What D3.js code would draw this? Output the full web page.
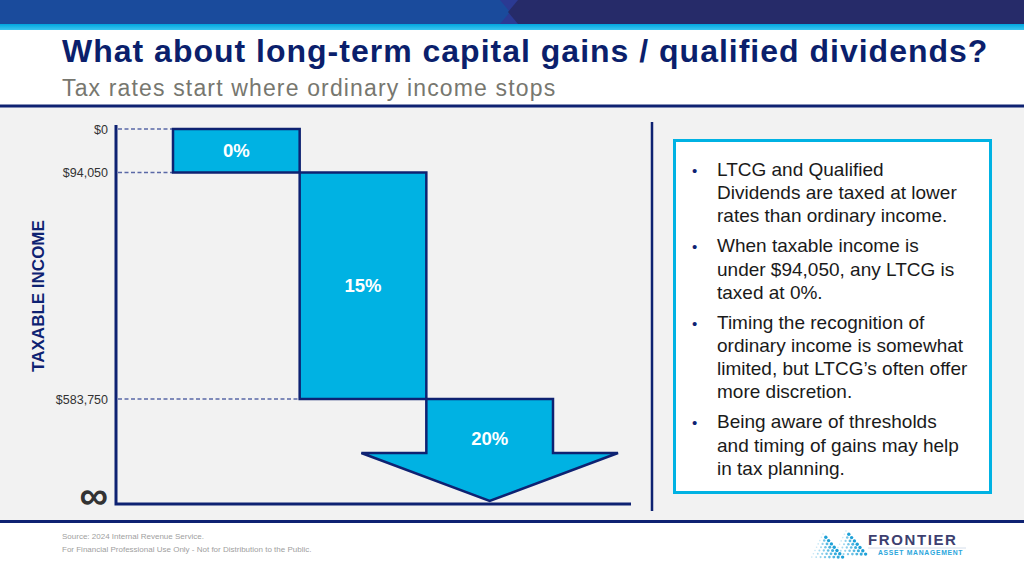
<!DOCTYPE html>
<html><head><meta charset="utf-8">
<script src="https://cdn.jsdelivr.net/npm/d3@7/dist/d3.min.js"></script>
<style>body{margin:0;background:#fff}svg{display:block;font-family:"Liberation Sans",Arial,sans-serif}</style>
</head><body><svg id="c" width="1024" height="572"></svg>
<script>
// ---- data ----
const brackets = ["0%", "15%", "20%"];
const lowerBounds = [0, 94050, 583750];
const upperBounds = [94050, 583750, Infinity];
const tickValues = [0, 94050, 583750];
const tickLabels = ["$0", "$94,050", "$583,750"];
const infinityLabel = "\u221E";
const titleText = "What about long-term capital gains / qualified dividends?";
const subtitleText = "Tax rates start where ordinary income stops";
const axisTitle = "TAXABLE INCOME";
const bullets = [
  ["LTCG and Qualified", "Dividends are taxed at lower", "rates than ordinary income."],
  ["When taxable income is", "under $94,050, any LTCG is", "taxed at 0%."],
  ["Timing the recognition of", "ordinary income is somewhat", "limited, but LTCG\u2019s often offer", "more discretion."],
  ["Being aware of thresholds", "and timing of gains may help", "in tax planning."]
];
const footerLines = ["Source: 2024 Internal Revenue Service.", "For Financial Professional Use Only - Not for Distribution to the Public."];

// ---- styles ----
const NAVY = "#0e2272", CYAN = "#00b2e3", PANEL = "#f2f2f2";
const svg = d3.select("#c");

// header band
svg.append("rect").attr("x",0).attr("y",0).attr("width",1024).attr("height",24).attr("fill","#2b3a93");
svg.append("polygon").attr("points","0,0 500,0 510,12 500,24 0,24").attr("fill","#1a4b9c");
svg.append("polygon").attr("points","518,0 1024,0 1024,24 518,24 508,12").attr("fill","#262b69");
const sg = svg.append("defs").append("linearGradient").attr("id","cy").attr("x1",0).attr("x2",0).attr("y1",0).attr("y2",1);
sg.append("stop").attr("offset",0).attr("stop-color","#00a6df");
sg.append("stop").attr("offset",1).attr("stop-color","#3cc6ef");
svg.append("rect").attr("x",0).attr("y",24).attr("width",1024).attr("height",6).attr("fill","url(#cy)");

// title
svg.append("text").attr("x",62).attr("y",62).attr("fill","#0b1f6c").attr("font-size",32).attr("font-weight","bold")
  .attr("letter-spacing",1.0).text(titleText);
svg.append("text").attr("x",62).attr("y",96).attr("fill","#77776f").attr("font-size",23)
  .attr("letter-spacing",1.15).text(subtitleText);

// panel
svg.append("rect").attr("x",0).attr("y",106).attr("width",1024).attr("height",416).attr("fill",PANEL);
svg.append("rect").attr("x",0).attr("y",104.5).attr("width",1024).attr("height",3).attr("fill",NAVY);
svg.append("rect").attr("x",0).attr("y",520).attr("width",1024).attr("height",3).attr("fill",NAVY);

// scales
const y = d3.scaleLinear().domain([0, 583750]).range([129, 399]);
const x = d3.scaleBand().domain(brackets).range([173, 553]).padding(0);
const axisX = 116, axisTop = 125, axisBottom = 504, axisRight = 631;
const infY = 501; // where the open-ended bracket points

// dashed guide lines
tickValues.forEach((v, i) => {
  const b = brackets[Math.max(i - 1, 0)];
  svg.append("line").attr("x1",axisX+2).attr("x2",x(b)).attr("y1",y(v)).attr("y2",y(v))
    .attr("stroke","#5a68a6").attr("stroke-width",1.3).attr("stroke-dasharray","4,2.5");
});

// bars
const g = svg.append("g");
brackets.forEach((b, i) => {
  const x0 = x(b), x1 = x(b) + x.bandwidth();
  const y0 = y(lowerBounds[i]);
  if (isFinite(upperBounds[i])) {
    const y1 = y(upperBounds[i]);
    g.append("rect").attr("x",x0).attr("y",y0).attr("width",x1-x0).attr("height",y1-y0)
      .attr("fill",CYAN).attr("stroke",NAVY).attr("stroke-width",2.5);
    g.append("text").attr("x",(x0+x1)/2).attr("y",(y0+y1)/2).attr("dy","0.36em")
      .attr("text-anchor","middle").attr("fill","#fff").attr("font-weight","bold").attr("font-size",18.5).text(b);
  } else {
    const headY = 453, spread = 65, cx = (x0 + x1) / 2;
    const pts = [[x0,y0],[x1,y0],[x1,headY],[x1+spread,headY],[cx,infY],[x0-spread,headY],[x0,headY]];
    g.append("polygon").attr("points",pts.map(p=>p.join(",")).join(" "))
      .attr("fill",CYAN).attr("stroke",NAVY).attr("stroke-width",2.5).attr("stroke-linejoin","miter");
    g.append("text").attr("x",cx).attr("y",438).attr("dy","0.36em")
      .attr("text-anchor","middle").attr("fill","#fff").attr("font-weight","bold").attr("font-size",18.5).text(b);
  }
});

// axes
const ax = svg.append("g").attr("transform",`translate(${axisX},0)`)
  .call(d3.axisLeft(y).tickValues(tickValues).tickFormat((d,i)=>tickLabels[i]).tickSize(0).tickPadding(8));
ax.select(".domain").remove();
ax.selectAll("text").attr("font-size",12.5).attr("fill","#333").attr("font-family","Liberation Sans, Arial, sans-serif");
svg.append("path").attr("d",`M${axisX},${axisTop}V${axisBottom}H${axisRight}`)
  .attr("fill","none").attr("stroke",NAVY).attr("stroke-width",3);
svg.append("text").attr("x",108).attr("y",495).attr("dy","0.35em").attr("text-anchor","end")
  .attr("font-size",40).attr("font-weight","bold").attr("fill","#333").text(infinityLabel);
svg.append("text").attr("transform","translate(38,296) rotate(-90)").attr("dy","0.35em")
  .attr("text-anchor","middle").attr("font-size",17).attr("font-weight","bold").attr("fill",NAVY).text(axisTitle);

// divider
svg.append("line").attr("x1",652).attr("x2",652).attr("y1",122).attr("y2",511).attr("stroke",NAVY).attr("stroke-width",2.5);

// text box
svg.append("rect").attr("x",674.5).attr("y",140.5).attr("width",316).attr("height",352)
  .attr("fill","#fff").attr("stroke",CYAN).attr("stroke-width",3);
let by = 176;
const lh = 23.2;
bullets.forEach(lines => {
  svg.append("text").attr("x",692).attr("y",by).attr("fill",NAVY).attr("font-size",15).text("\u2022");
  const t = svg.append("text").attr("x",717).attr("y",by).attr("fill","#1a1a1a").attr("font-size",19);
  lines.forEach((l, k) => t.append("tspan").attr("x",717).attr("y",by + k*lh).text(l));
  by += (lines.length - 1) * lh + 30;
});

// footer
footerLines.forEach((l, i) => svg.append("text").attr("x",62).attr("y",539 + i*13).attr("font-size",8).attr("fill","#a0a0a0").text(l));

// logo
const logo = svg.append("g");
[[823,534,0],[846,531,1]].forEach(([px,py,k]) => {
  for (let r = 0; r < 8; r++) {
    for (let c = 0; c <= r; c++) {
      const dx = px - r*2.2 + c*4.4 + r*0.6, dy = py + r*3.3;
      const t = c / Math.max(r,1);
      logo.append("circle").attr("cx",dx).attr("cy",dy).attr("r",0.8 + t*0.9)
        .attr("fill","#1da1d8").attr("opacity",0.25 + t*0.75);
    }
  }
});
logo.append("text").attr("x",868).attr("y",545).attr("font-size",15).attr("font-weight","bold")
  .attr("letter-spacing",1.6).attr("fill","#3d3f70").text("FRONTIER");
logo.append("line").attr("x1",868).attr("x2",966).attr("y1",548).attr("y2",548).attr("stroke","#c9d5e6").attr("stroke-width",0.8);
logo.append("text").attr("x",878).attr("y",555).attr("font-size",6.8).attr("font-weight","bold")
  .attr("letter-spacing",0.7).attr("fill","#2aa6dc").text("ASSET MANAGEMENT");
</script></body></html>
